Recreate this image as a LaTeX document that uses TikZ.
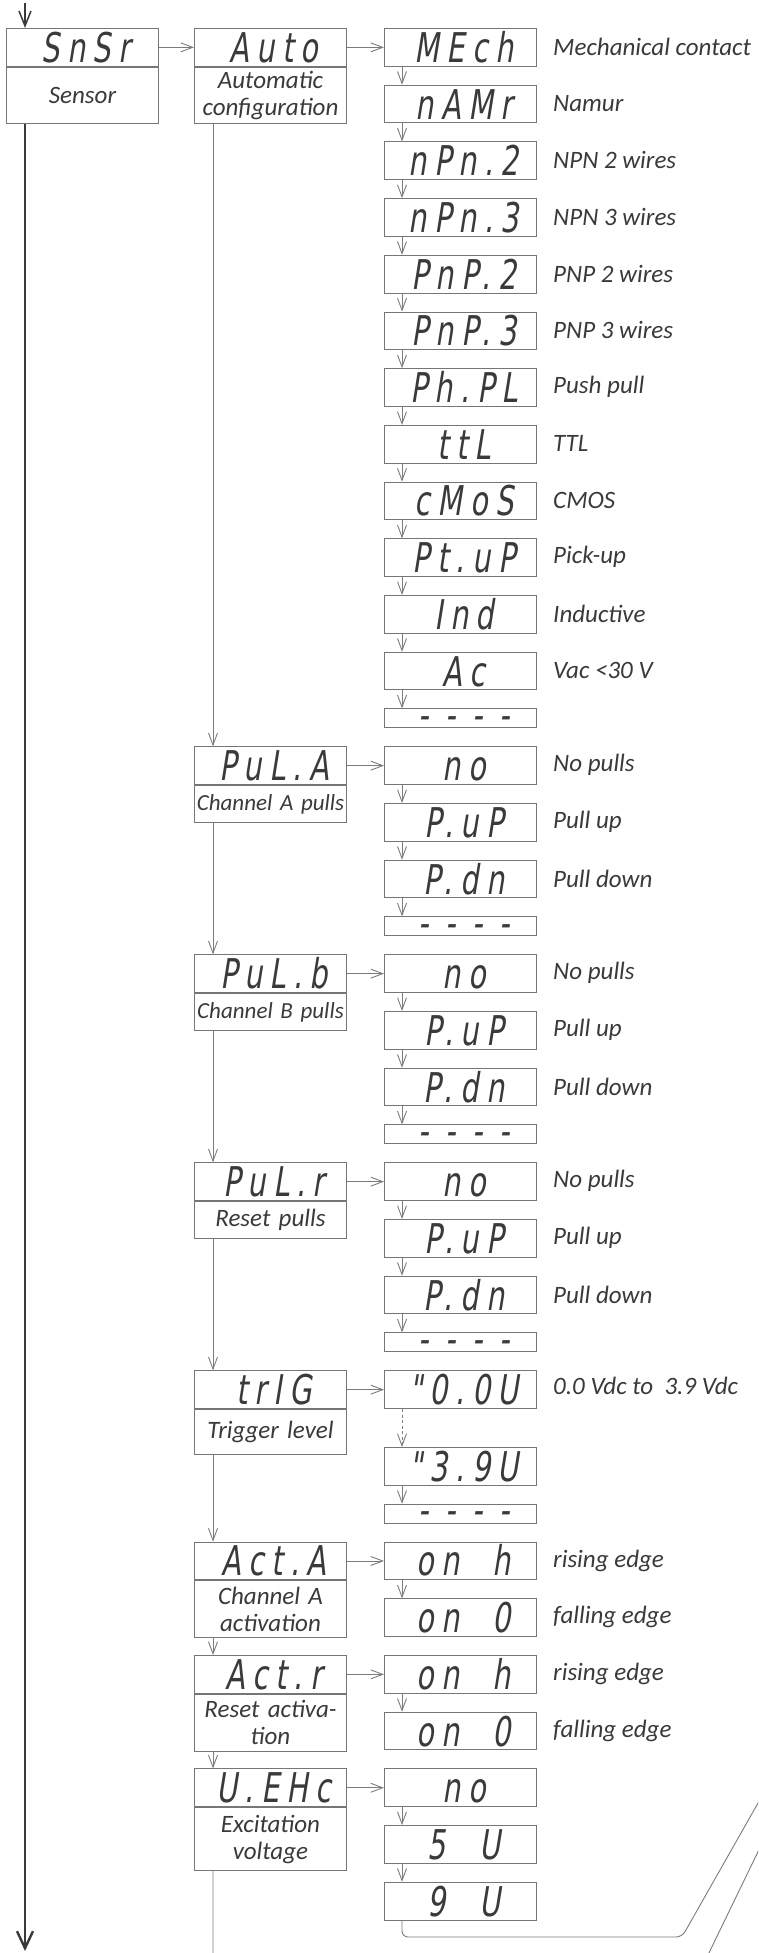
\documentclass[tikz,border=0pt]{standalone}
\usepackage{fontspec}
\setmainfont{Carlito}
\newfontfamily\segfont[FakeSlant=0.16,FakeStretch=0.7,LetterSpace=18]{DejaVu Sans}
\usetikzlibrary{arrows.meta}
\definecolor{ink}{HTML}{3A3A3A}
\definecolor{frame}{HTML}{767676}
\definecolor{wire}{HTML}{7C7C7C}

\begin{document}
\begin{tikzpicture}[x=1pt, y=-1pt, >={Straight Barb[length=12pt,width=9pt]},
    disp/.style={draw=frame, line width=1pt, anchor=north west, minimum width=152pt,
        minimum height=37.7pt, inner sep=0pt, text height=30pt, text depth=0pt,
        font=\fontsize{41}{41}\selectfont\segfont, text=ink,
        execute at begin node=\hspace*{7pt}},
    dashbox/.style={disp, minimum height=18.9pt, text height=0pt, text depth=0pt},
    note/.style={draw=frame, line width=1pt, anchor=north, minimum width=152pt,
        text width=152pt, align=center, inner sep=0pt,
        font=\fontsize{25}{27}\selectfont\itshape, text=ink},
    desc/.style={anchor=west, inner sep=0pt, font=\fontsize{25}{29}\selectfont\itshape, text=ink},
    wire/.style={draw=wire, line width=0.9pt}]
    \fill[white] (0,0) rectangle (758,1953);
    \useasboundingbox (0,0) rectangle (758,1953);
    \clip (0,0) rectangle (758,1953);

    % menu entry
    \node[disp] (snsr) at (6,28) {SnSr};
    \node[note, minimum height=56.3pt] (snsrT) at (snsr.south) {Sensor};

    % sub menus
    \node[disp] (auto) at (194,28) {Auto};
    \node[note, minimum height=56.3pt] (autoT) at (auto.south) {Automatic\\configuration};
    \node[disp] (pula) at (194,746.3) {PuL.A};
    \node[note, minimum height=37.3pt, font=\fontsize{23}{27}\selectfont\itshape] (pulaT) at (pula.south) {Channel A pulls};
    \node[disp] (pulb) at (194,954.3) {PuL.b};
    \node[note, minimum height=37.3pt, font=\fontsize{23}{27}\selectfont\itshape] (pulbT) at (pulb.south) {Channel B pulls};
    \node[disp] (pulr) at (194,1162.3) {PuL.r};
    \node[note, minimum height=37.3pt] (pulrT) at (pulr.south) {Reset pulls};
    \node[disp] (trig) at (194,1370.3) {trIG};
    \node[note, minimum height=44.5pt] (trigT) at (trig.south) {Trigger level};
    \node[disp] (acta) at (194,1541.6) {Act.A};
    \node[note, minimum height=57pt] (actaT) at (acta.south) {Channel A\\activation};
    \node[disp] (actr) at (194,1655) {Act.r};
    \node[note, minimum height=57pt] (actrT) at (actr.south) {Reset activa-\\tion};
    \node[disp] (uexc) at (194,1768.4) {U.EHc};
    \node[note, minimum height=63pt] (uexcT) at (uexc.south) {Excitation\\voltage};

    % sensor types
    \node[disp] (a1) at (384,28) {MEch};
    \node[disp] (a2) at (384,84.7) {nAMr};
    \node[disp] (a3) at (384,141.4) {nPn.2};
    \node[disp] (a4) at (384,198.1) {nPn.3};
    \node[disp] (a5) at (384,254.8) {PnP.2};
    \node[disp] (a6) at (384,311.5) {PnP.3};
    \node[disp] (a7) at (384,368.2) {Ph.PL};
    \node[disp] (a8) at (384,424.9) {ttL};
    \node[disp] (a9) at (384,481.6) {cMoS};
    \node[disp] (a10) at (384,538.3) {Pt.uP};
    \node[disp] (a11) at (384,595) {Ind};
    \node[disp] (a12) at (384,651.7) {Ac};
    \node[dashbox] (a13) at (384,708.4) {\raisebox{-0.27em}{- - - -}};
    \node[desc] (a1d) at (553,46.85) {Mechanical contact};
    \node[desc] (a2d) at (553,103.55) {Namur};
    \node[desc] (a3d) at (553,160.25) {NPN 2 wires};
    \node[desc] (a4d) at (553,216.95) {NPN 3 wires};
    \node[desc] (a5d) at (553,273.65) {PNP 2 wires};
    \node[desc] (a6d) at (553,330.35) {PNP 3 wires};
    \node[desc] (a7d) at (553,387.05) {Push pull};
    \node[desc] (a8d) at (553,443.75) {TTL};
    \node[desc] (a9d) at (553,500.45) {CMOS};
    \node[desc] (a10d) at (553,557.15) {Pick-up};
    \node[desc] (a11d) at (553,613.85) {Inductive};
    \node[desc] (a12d) at (553,670.55) {Vac <30 V};

    % pulls
    \node[disp] (pa1) at (384,746.3) {no};
    \node[disp] (pa2) at (384,803) {P.uP};
    \node[disp] (pa3) at (384,859.7) {P.dn};
    \node[dashbox] (pa4) at (384,916.4) {\raisebox{-0.27em}{- - - -}};
    \node[desc] (pa1d) at (553,765.15) {No pulls};
    \node[desc] (pa2d) at (553,821.85) {Pull up};
    \node[desc] (pa3d) at (553,878.55) {Pull down};

    \node[disp] (pb1) at (384,954.3) {no};
    \node[disp] (pb2) at (384,1011) {P.uP};
    \node[disp] (pb3) at (384,1067.7) {P.dn};
    \node[dashbox] (pb4) at (384,1124.4) {\raisebox{-0.27em}{- - - -}};
    \node[desc] (pb1d) at (553,973.15) {No pulls};
    \node[desc] (pb2d) at (553,1029.85) {Pull up};
    \node[desc] (pb3d) at (553,1086.55) {Pull down};

    \node[disp] (pr1) at (384,1162.3) {no};
    \node[disp] (pr2) at (384,1219) {P.uP};
    \node[disp] (pr3) at (384,1275.7) {P.dn};
    \node[dashbox] (pr4) at (384,1332.4) {\raisebox{-0.27em}{- - - -}};
    \node[desc] (pr1d) at (553,1181.15) {No pulls};
    \node[desc] (pr2d) at (553,1237.85) {Pull up};
    \node[desc] (pr3d) at (553,1294.55) {Pull down};

    % trigger, activation, excitation
    \node[disp] (tg1) at (384,1370.3) {"0.0U};
    \node[disp] (tg2) at (384,1447) {"3.9U};
    \node[dashbox] (tg3) at (384,1503.7) {\raisebox{-0.27em}{- - - -}};
    \node[desc] (tg1d) at (553,1386) {0.0 Vdc to \ 3.9 Vdc};

    \node[disp] (ca1) at (384,1541.6) {on\ \ h};
    \node[disp] (ca2) at (384,1598.3) {on\ \ 0};
    \node[desc] (ca1d) at (553,1560.45) {rising edge};
    \node[desc] (ca2d) at (553,1617.15) {falling edge};
    \node[disp] (cr1) at (384,1655) {on\ \ h};
    \node[disp] (cr2) at (384,1711.7) {on\ \ 0};
    \node[desc] (cr1d) at (553,1673.85) {rising edge};
    \node[desc] (cr2d) at (553,1730.55) {falling edge};

    \node[disp] (ux1) at (384,1768.4) {no};
    \node[disp] (ux2) at (384,1825.1) {5\ \ U};
    \node[disp] (ux3) at (384,1881.8) {9\ \ U};

    % main line
    \coordinate (in) at (25,3);
    \coordinate (out) at (25,1951);
    \draw[ink, line width=1.5pt, -{Straight Barb[length=15pt,width=12pt]}] (in) -- ([xshift=19pt]snsr.north west);
    \draw[ink, line width=2.4pt, -{Straight Barb[length=17pt,width=16pt]}] ([xshift=19pt]snsrT.south west) -- (out);

    % across
    \draw[wire,->] (snsr) -- (auto);
    \draw[wire,->] (auto) -- (a1);
    \draw[wire,->] (pula) -- (pa1);
    \draw[wire,->] (pulb) -- (pb1);
    \draw[wire,->] (pulr) -- (pr1);
    \draw[wire,->] (trig) -- (tg1);
    \draw[wire,->] (acta) -- (ca1);
    \draw[wire,->] (actr) -- (cr1);
    \draw[wire,->] (uexc) -- (ux1);

    % down the sub menus
    \draw[wire,->] ([xshift=19pt]autoT.south west) -- ([xshift=19pt]pula.north west);
    \draw[wire,->] ([xshift=19pt]pulaT.south west) -- ([xshift=19pt]pulb.north west);
    \draw[wire,->] ([xshift=19pt]pulbT.south west) -- ([xshift=19pt]pulr.north west);
    \draw[wire,->] ([xshift=19pt]pulrT.south west) -- ([xshift=19pt]trig.north west);
    \draw[wire,->] ([xshift=19pt]trigT.south west) -- ([xshift=19pt]acta.north west);
    \draw[wire,->] ([xshift=19pt]actaT.south west) -- ([xshift=19pt]actr.north west);
    \draw[wire,->] ([xshift=19pt]actrT.south west) -- ([xshift=19pt]uexc.north west);

    % down the values
    \draw[wire,->] ([xshift=18pt]a1.south west) -- ([xshift=18pt]a2.north west);
    \draw[wire,->] ([xshift=18pt]a2.south west) -- ([xshift=18pt]a3.north west);
    \draw[wire,->] ([xshift=18pt]a3.south west) -- ([xshift=18pt]a4.north west);
    \draw[wire,->] ([xshift=18pt]a4.south west) -- ([xshift=18pt]a5.north west);
    \draw[wire,->] ([xshift=18pt]a5.south west) -- ([xshift=18pt]a6.north west);
    \draw[wire,->] ([xshift=18pt]a6.south west) -- ([xshift=18pt]a7.north west);
    \draw[wire,->] ([xshift=18pt]a7.south west) -- ([xshift=18pt]a8.north west);
    \draw[wire,->] ([xshift=18pt]a8.south west) -- ([xshift=18pt]a9.north west);
    \draw[wire,->] ([xshift=18pt]a9.south west) -- ([xshift=18pt]a10.north west);
    \draw[wire,->] ([xshift=18pt]a10.south west) -- ([xshift=18pt]a11.north west);
    \draw[wire,->] ([xshift=18pt]a11.south west) -- ([xshift=18pt]a12.north west);
    \draw[wire,->] ([xshift=18pt]a12.south west) -- ([xshift=18pt]a13.north west);
    \draw[wire,->] ([xshift=18pt]pa1.south west) -- ([xshift=18pt]pa2.north west);
    \draw[wire,->] ([xshift=18pt]pa2.south west) -- ([xshift=18pt]pa3.north west);
    \draw[wire,->] ([xshift=18pt]pa3.south west) -- ([xshift=18pt]pa4.north west);
    \draw[wire,->] ([xshift=18pt]pb1.south west) -- ([xshift=18pt]pb2.north west);
    \draw[wire,->] ([xshift=18pt]pb2.south west) -- ([xshift=18pt]pb3.north west);
    \draw[wire,->] ([xshift=18pt]pb3.south west) -- ([xshift=18pt]pb4.north west);
    \draw[wire,->] ([xshift=18pt]pr1.south west) -- ([xshift=18pt]pr2.north west);
    \draw[wire,->] ([xshift=18pt]pr2.south west) -- ([xshift=18pt]pr3.north west);
    \draw[wire,->] ([xshift=18pt]pr3.south west) -- ([xshift=18pt]pr4.north west);
    \draw[wire,dash pattern=on 3pt off 2.5pt,->] ([xshift=18pt]tg1.south west) -- ([xshift=18pt]tg2.north west);
    \draw[wire,->] ([xshift=18pt]tg2.south west) -- ([xshift=18pt]tg3.north west);
    \draw[wire,->] ([xshift=18pt]ca1.south west) -- ([xshift=18pt]ca2.north west);
    \draw[wire,->] ([xshift=18pt]cr1.south west) -- ([xshift=18pt]cr2.north west);
    \draw[wire,->] ([xshift=18pt]ux1.south west) -- ([xshift=18pt]ux2.north west);
    \draw[wire,->] ([xshift=18pt]ux2.south west) -- ([xshift=18pt]ux3.north west);

    % way back
    \coordinate (r1) at (682,1937);
    \coordinate (r1end) at (800,1729);
    \coordinate (r2) at (706,1959);
    \coordinate (r2end) at (800,1765);
    \draw[wire, rounded corners=6pt] ([xshift=18pt]ux3.south west) |- (r1) -- (r1end);
    \draw[wire, rounded corners=6pt] ([xshift=19pt]uexcT.south west) |- (r2) -- (r2end);
\end{tikzpicture}
\end{document}
